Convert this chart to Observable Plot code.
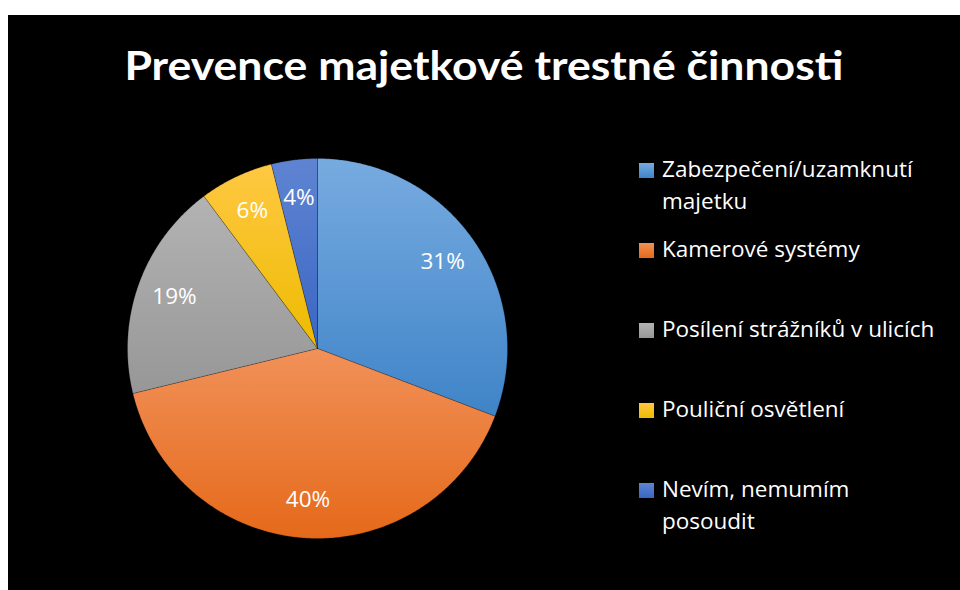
<!DOCTYPE html>
<html>
<head>
<meta charset="utf-8">
<script src="https://cdn.jsdelivr.net/npm/d3@7"></script>
<script src="https://cdn.jsdelivr.net/npm/@observablehq/plot@0.6"></script>
<style>
  html, body { margin: 0; padding: 0; background: #ffffff; }
  #panel { position: absolute; left: 8px; top: 15px; width: 952px; height: 575px; background: #000; overflow: hidden; }
  #title { position: absolute; left: 0; top: 26px; width: 952px; text-align: center; color: #fff;
           font-family: Lato, "Open Sans", sans-serif; font-weight: 700; font-size: 40px; line-height: 48px; white-space: nowrap; }
  #title span { display: inline-block; transform-origin: center; }
  #chart { position: absolute; left: 101px; top: 125px; }
  .item { position: absolute; left: 654px; color: #fff; font-family: "Open Sans", Lato, sans-serif; font-size: 22.5px; line-height: 32px; white-space: pre; }
  .sw { position: absolute; left: 631px; width: 15px; height: 15px; }
</style>
</head>
<body>
<div id="panel">
  <div id="title"><span id="tspan"></span></div>
  <div id="chart"></div>
</div>
<script>
const title = "Prevence majetkové trestné činnosti";
const categories = ["Zabezpečení/uzamknutí majetku", "Kamerové systémy", "Posílení strážníků v ulicích", "Pouliční osvětlení", "Nevím, nemumím posoudit"];
const legendLabels = ["Zabezpečení/uzamknutí\nmajetku", "Kamerové systémy", "Posílení strážníků v ulicích", "Pouliční osvětlení", "Nevím, nemumím\nposoudit"];
const values = [30.8, 40.4, 18.6, 6.3, 3.9];
const colorsTop = ["#77abe0", "#f19159", "#b3b3b3", "#ffc843", "#5f84d2"];
const colorsBottom = ["#3f84c8", "#e5691a", "#979797", "#edbb00", "#3a66c3"];
const gradIds = categories.map((c, i) => "grad" + i);

// title
document.getElementById("tspan").textContent = title;

// pie geometry from data
const total = d3.sum(values);
const pie = d3.pie().sort(null).value(d => d)(values);
const slicePts = [];
pie.forEach((p, i) => {
  const n = Math.max(2, Math.ceil((p.endAngle - p.startAngle) / (Math.PI / 360)));
  slicePts.push({key: categories[i], x: 0, y: 0});
  for (let k = 0; k <= n; k++) {
    const a = p.startAngle + (p.endAngle - p.startAngle) * k / n;
    slicePts.push({key: categories[i], x: Math.sin(a), y: Math.cos(a)});
  }
  slicePts.push({key: categories[i], x: 0, y: 0});
});
const labelPts = pie.map((p, i) => {
  const a = (p.startAngle + p.endAngle) / 2;
  return {x: 0.8 * Math.sin(a), y: 0.8 * Math.cos(a), text: Math.round(values[i] / total * 100) + "%"};
});

const plot = Plot.plot({
  width: 416, height: 416, margin: 18,
  style: {background: "transparent", overflow: "visible"},
  x: {domain: [-1, 1], axis: null},
  y: {domain: [-1, 1], axis: null},
  color: {type: "ordinal", domain: categories, range: gradIds.map(id => `url(#${id})`)},
  marks: [
    Plot.line(slicePts, {x: "x", y: "y", z: "key", fill: "key", stroke: "#000", strokeOpacity: 0.35, strokeWidth: 0.6, curve: "linear"}),
    Plot.text(labelPts, {x: "x", y: "y", text: "text", fill: "#fff", fontSize: 22.5, fontFamily: "'Open Sans', Lato, sans-serif"})
  ]
});

// gradients
const ns = "http://www.w3.org/2000/svg";
const defs = document.createElementNS(ns, "defs");
gradIds.forEach((id, i) => {
  const g = document.createElementNS(ns, "linearGradient");
  g.setAttribute("id", id);
  g.setAttribute("x1", "0"); g.setAttribute("y1", "0"); g.setAttribute("x2", "0"); g.setAttribute("y2", "1");
  [[0, colorsTop[i]], [1, colorsBottom[i]]].forEach(([o, c]) => {
    const s = document.createElementNS(ns, "stop");
    s.setAttribute("offset", o); s.setAttribute("stop-color", c);
    g.appendChild(s);
  });
  defs.appendChild(g);
});
plot.insertBefore(defs, plot.firstChild);
document.getElementById("chart").appendChild(plot);

// legend
const panel = document.getElementById("panel");
const baselines = [163, 243, 323, 403, 483];
legendLabels.forEach((lab, i) => {
  const sw = document.createElement("div");
  sw.className = "sw";
  sw.style.top = (baselines[i] - 15) + "px";
  sw.style.background = `linear-gradient(${colorsTop[i]}, ${colorsBottom[i]})`;
  panel.appendChild(sw);
  const t = document.createElement("div");
  t.className = "item";
  t.style.top = (baselines[i] - 25) + "px";
  t.textContent = lab;
  panel.appendChild(t);
});

// fit title width to reference (~719px)
const ts = document.getElementById("tspan");
const w = ts.getBoundingClientRect().width;
if (w > 0) ts.style.transform = `scaleX(${719 / w})`;
</script>
</body>
</html>
